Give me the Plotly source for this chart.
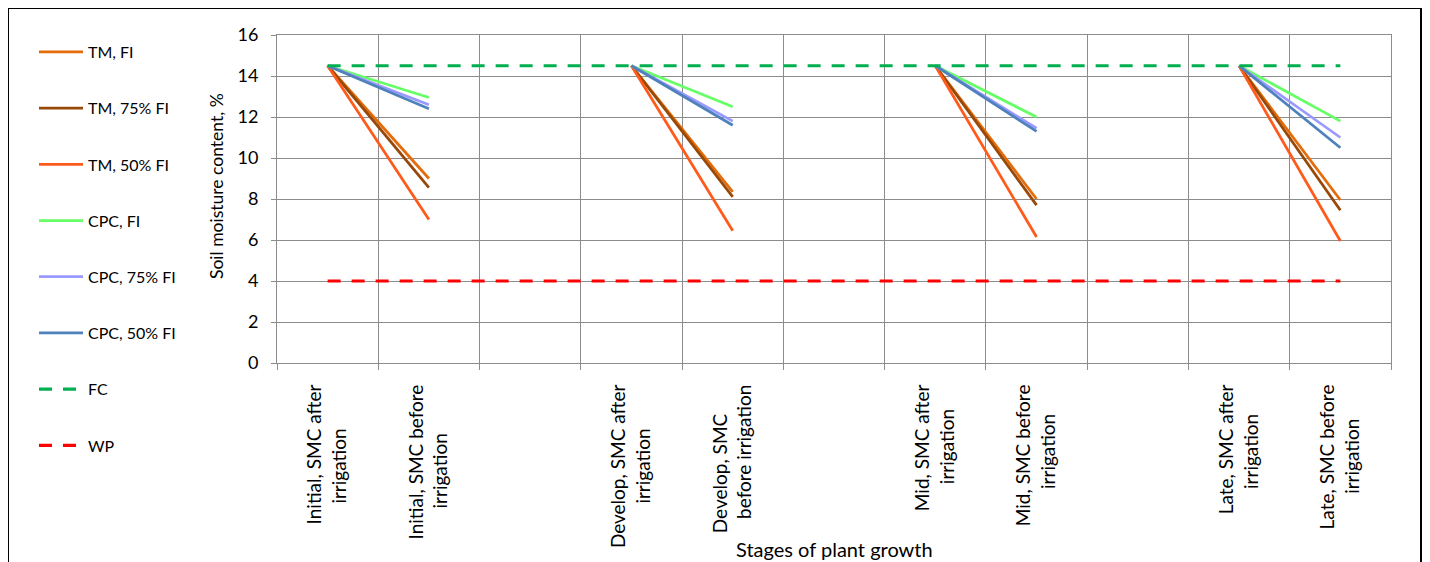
import plotly.graph_objects as go

# ---------------- data ----------------
label_lines = [
    ("Initial, SMC after", "irrigation"),
    ("Initial, SMC before", "irrigation"),
    ("", ""),
    ("Develop, SMC after", "irrigation"),
    ("Develop, SMC", "before irrigation"),
    ("", ""),
    ("Mid, SMC after", "irrigation"),
    ("Mid, SMC before", "irrigation"),
    ("", ""),
    ("Late, SMC after", "irrigation"),
    ("Late, SMC before", "irrigation"),
]

tm_fi = [14.5, 9.0, None, 14.5, 8.35, None, 14.5, 8.0, None, 14.5, 7.95]
tm_75fi = [14.5, 8.55, None, 14.5, 8.1, None, 14.5, 7.7, None, 14.5, 7.45]
tm_50fi = [14.5, 7.0, None, 14.5, 6.45, None, 14.5, 6.15, None, 14.5, 5.95]
cpc_fi = [14.5, 12.95, None, 14.5, 12.5, None, 14.5, 12.0, None, 14.5, 11.8]
cpc_75fi = [14.5, 12.6, None, 14.5, 11.8, None, 14.5, 11.45, None, 14.5, 11.0]
cpc_50fi = [14.5, 12.4, None, 14.5, 11.6, None, 14.5, 11.3, None, 14.5, 10.5]
fc = [14.5, 14.5, 14.5, 14.5, 14.5, 14.5, 14.5, 14.5, 14.5, 14.5, 14.5]
wp = [4, 4, 4, 4, 4, 4, 4, 4, 4, 4, 4]

series_names = ["TM, FI", "TM, 75% FI", "TM, 50% FI", "CPC, FI", "CPC, 75% FI",
                "CPC, 50% FI", "FC", "WP"]
series_values = [tm_fi, tm_75fi, tm_50fi, cpc_fi, cpc_75fi, cpc_50fi, fc, wp]
series_colors = ["#E46C0A", "#984807", "#FF5A1A", "#66FF66", "#9999FF",
                 "#4F81BD", "#00B050", "#FF0000"]
series_dash = ["solid"] * 6 + ["13px,11px", "13px,11px"]
series_width = [2.75] * 6 + [3.2, 3.2]

x_title = "Stages of plant growth"
y_title = "Soil moisture content, %"

FONT = "Lato"
NBSP = "\u00a0"


def centered_label(lines, idx):
    a, b = lines
    if not a and not b:
        return NBSP * (idx + 1)  # unique blank category
    # pad the shorter line with trailing no-break spaces so that the
    # end-anchored rotated lines look centred on each other
    diff = len(a) - len(b)
    n = int(round(abs(diff) * 0.46 / 2 / 0.2))
    if diff > 0:
        b = b + NBSP * n
    else:
        a = a + NBSP * n
    return a + "<br>" + b


categories = [centered_label(l, i) for i, l in enumerate(label_lines)]

fig = go.Figure()
for name, vals, col, dash, w in zip(series_names, series_values, series_colors,
                                    series_dash, series_width):
    fig.add_trace(go.Scatter(
        x=categories, y=vals, name=name, mode="lines",
        line=dict(color=col, width=w, dash=dash),
        connectgaps=False, legendgroup=name,
    ))

# page body adds an 8px offset; figure coordinates are shifted accordingly
OFF = 8
W, H = 1430 - OFF, 562 - OFF
PL, PR, PT, PB = 277, 1391, 35, 363  # plot area in screen pixels
L, R, T, B = PL - OFF, W - (PR - OFF), PT - OFF, H - (PB - OFF)


def px_x(p):
    return (p - PL) / (PR - PL)


def px_y(p):
    return (PB - p) / (PB - PT)


fig.update_layout(
    width=W, height=H,
    margin=dict(l=L, r=R, t=T, b=B, pad=0),
    paper_bgcolor="white", plot_bgcolor="white",
    font=dict(family=FONT, size=18, color="black"),
    showlegend=True,
    legend=dict(
        xref="container", yref="container",
        x=(34 - OFF) / W, y=1 - (35 - OFF) / H, xanchor="left", yanchor="top",
        tracegroupgap=32.4, font=dict(size=16, family=FONT),
        itemwidth=44, bgcolor="rgba(0,0,0,0)", maxheight=520,
    ),
    xaxis=dict(
        type="category", categoryorder="array", categoryarray=categories,
        range=[-0.5, 10.5], tickson="boundaries",
        showgrid=True, gridcolor="#8C8C8C", gridwidth=1,
        showline=True, linecolor="#8C8C8C", linewidth=1, mirror=True,
        ticks="outside", ticklen=6, tickcolor="#8C8C8C",
        ticklabelstandoff=13,
        tickangle=-90, tickfont=dict(size=19, family=FONT),
        automargin=False, zeroline=False,
    ),
    yaxis=dict(
        range=[0, 16], dtick=2, tick0=0,
        showgrid=True, gridcolor="#8C8C8C", gridwidth=1,
        showline=True, linecolor="#8C8C8C", linewidth=1, mirror=True,
        ticks="outside", ticklen=5, tickcolor="#8C8C8C",
        ticklabelstandoff=9,
        tickfont=dict(size=18, family=FONT),
        automargin=False, zeroline=False,
    ),
    annotations=[
        dict(
            text=x_title, xref="paper", yref="paper",
            x=0.5, y=px_y(549), xanchor="center", yanchor="middle",
            showarrow=False, font=dict(size=20, family=FONT, color="black"),
        ),
        dict(
            text=y_title, xref="paper", yref="paper",
            x=px_x(216), y=px_y(186), xanchor="center", yanchor="middle",
            textangle=-90, showarrow=False,
            font=dict(size=17.5, family=FONT, color="black"),
        ),
    ],
    shapes=[dict(
        type="rect", xref="paper", yref="paper",
        x0=px_x(8), x1=px_x(1421), y0=px_y(640), y1=px_y(8),
        line=dict(color="black", width=2), fillcolor="rgba(0,0,0,0)",
        layer="above",
    )],
)

fig.write_html("out.html")
